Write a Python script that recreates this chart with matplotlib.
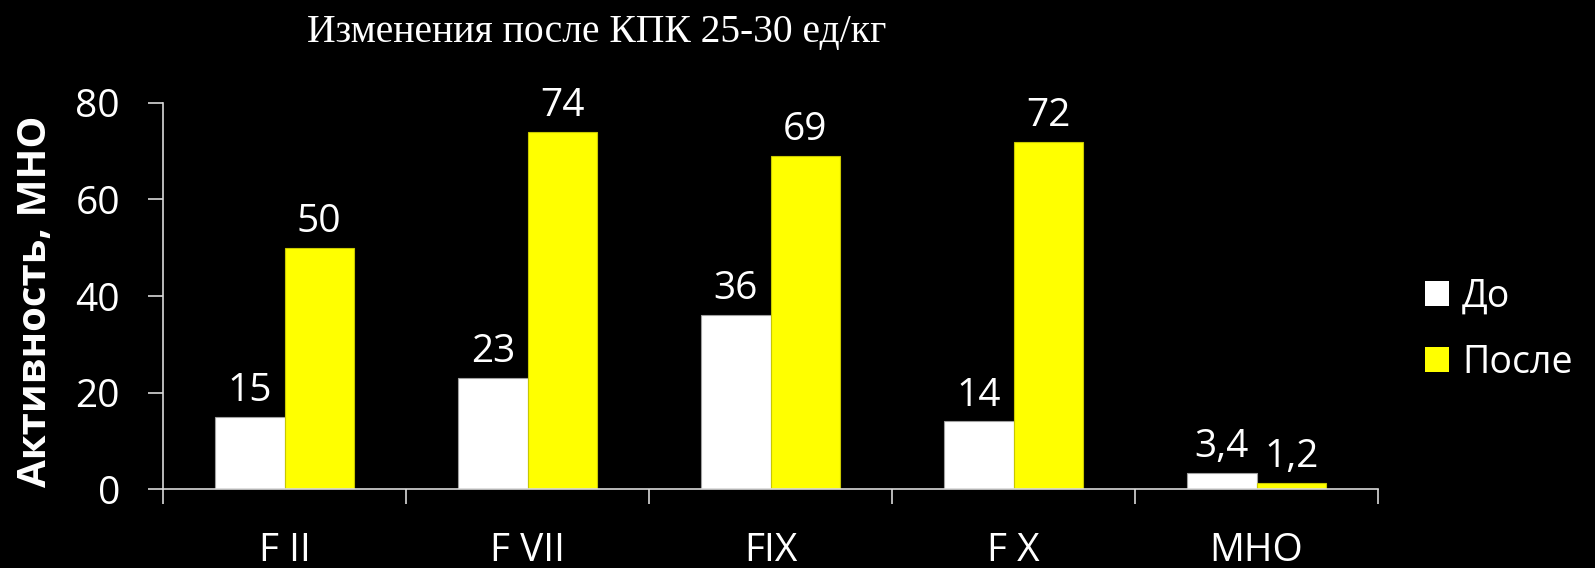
import matplotlib
matplotlib.use("Agg")
import matplotlib.pyplot as plt
import numpy as np
from matplotlib.patches import Patch

categories = ["F II", "F VII", "FIX", "F X", "МНО"]
before = [15, 23, 36, 14, 3.4]
after = [50, 74, 69, 72, 1.2]
series_names = ["До", "После"]
y_ticks = [0, 20, 40, 60, 80]

TEXT_FONT = ["Open Sans", "DejaVu Sans"]
WHITE = "#ffffff"
YELLOW = "#ffff00"
AXIS_COLOR = "#d9d9d9"
FS = 28


def fmt(v):
    return f"{v:g}".replace(".", ",")


fig = plt.figure(figsize=(15.95, 5.68), dpi=100, facecolor="black")
ax = fig.add_axes([0.1022, 0.139, 0.7618, 0.6797])
ax.set_facecolor("black")

x = np.arange(len(categories))
width = 0.285
b1 = ax.bar(x - width / 2, before, width, color=WHITE, edgecolor="#a0a0a0", linewidth=0.8)
b2 = ax.bar(x + width / 2, after, width, color=YELLOW, edgecolor="#c8c800", linewidth=0.8)

for bars, vals in ((b1, before), (b2, after)):
    for rect, v in zip(bars, vals):
        ax.annotate(fmt(v), (rect.get_x() + rect.get_width() / 2, rect.get_height()),
                    xytext=(0, 5), textcoords="offset points", ha="center", va="bottom",
                    color=WHITE, fontsize=FS, family=TEXT_FONT)

ax.set_xlim(-0.5, len(categories) - 0.5)
ax.set_ylim(0, 80)
ax.set_yticks(y_ticks)
ax.set_yticklabels([str(t) for t in y_ticks], family=TEXT_FONT, fontsize=FS, color=WHITE)
ax.tick_params(axis="y", direction="out", length=11, width=1.2, color=AXIS_COLOR, pad=20)

ax.set_xticks(np.arange(len(categories) + 1) - 0.5)
ax.set_xticklabels([])
ax.tick_params(axis="x", which="major", direction="out", length=11, width=1.2, color=AXIS_COLOR)
ax.set_xticks(x, minor=True)
ax.set_xticklabels(categories, minor=True, family=TEXT_FONT, fontsize=FS, color=WHITE)
ax.tick_params(axis="x", which="minor", length=0, pad=31)

for side in ("top", "right"):
    ax.spines[side].set_visible(False)
for side in ("left", "bottom"):
    ax.spines[side].set_color(AXIS_COLOR)
    ax.spines[side].set_linewidth(1.2)

fig.text(0.022, 0.47, "Активность, МНО", rotation=90, ha="center", va="center",
         family=TEXT_FONT, fontsize=29, fontweight="bold", color=WHITE)

fig.text(0.374, 0.942, "Изменения после КПК 25-30 ед/кг", ha="center", va="center",
         family=["Liberation Serif", "DejaVu Serif"], fontsize=28.5, color=WHITE)

handles = [Patch(facecolor=WHITE, edgecolor="none"), Patch(facecolor=YELLOW, edgecolor="none")]
leg = fig.legend(handles, series_names, loc="center left", bbox_to_anchor=(0.872, 0.42),
                 frameon=False, handlelength=0.65, handleheight=0.65, handletextpad=0.35,
                 labelspacing=0.75, prop={"family": TEXT_FONT, "size": 27})
for t in leg.get_texts():
    t.set_color(WHITE)

fig.savefig("out.png", dpi=100, facecolor="black")
